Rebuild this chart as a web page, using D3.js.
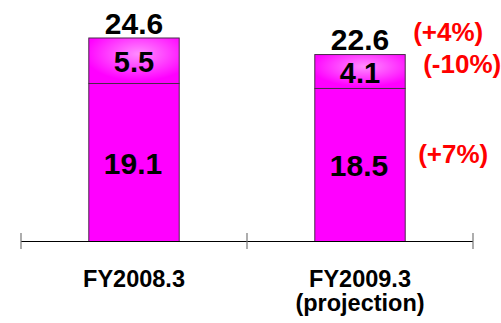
<!DOCTYPE html>
<html>
<head>
<meta charset="utf-8">
<script src="https://cdn.jsdelivr.net/npm/d3@7"></script>
<style>
  html, body { margin: 0; padding: 0; background: #fff; }
  svg { display: block; }
  svg text { font-family: "Liberation Sans", Arimo, Arial, Helvetica, sans-serif; font-weight: 700; }
</style>
</head>
<body>
<svg id="chart" width="501" height="323"></svg>
<script>
// Fiscal years and their stacked values
const categories = ["FY2008.3", "FY2009.3"];
const subLabels = ["", "(projection)"];
const baseValues = [19.1, 18.5];
const topValues = [5.5, 4.1];
const totals = [24.6, 22.6];
// Year-on-year change shown beside the projection bar
const changeTotal = "(+4%)";
const changeTop = "(-10%)";
const changeBase = "(+7%)";

const FONT = "'Liberation Sans', Arimo, Arial, sans-serif";
const svg = d3.select("#chart");
const axisY = 241.5;

const x = d3.scaleBand().domain(categories).range([21, 473]).paddingInner(0).paddingOuter(0);
const y = d3.scaleLinear().domain([0, 24.6]).range([axisY, 38]);
const barW = x.bandwidth() * 0.4;
const cx = c => x(c) + x.bandwidth() / 2;

const defs = svg.append("defs");
const grad = defs.append("radialGradient").attr("id", "glow")
  .attr("cx", "55%").attr("cy", "35%").attr("r", "60%");
grad.append("stop").attr("offset", "0%").attr("stop-color", "#ff8cff");
grad.append("stop").attr("offset", "100%").attr("stop-color", "#ff00ff");

const rows = categories.map((c, i) => ({
  c, base: baseValues[i], top: topValues[i], total: totals[i], sub: subLabels[i]
}));

// lower segment
svg.selectAll("rect.base").data(rows).join("rect").attr("class", "base")
  .attr("x", d => cx(d.c) - barW / 2).attr("width", barW)
  .attr("y", d => y(d.base)).attr("height", d => y(0) - y(d.base))
  .attr("fill", "#ff00ff").attr("stroke", "#4a2a4a").attr("stroke-width", 1);

// upper segment
svg.selectAll("rect.top").data(rows).join("rect").attr("class", "top")
  .attr("x", d => cx(d.c) - barW / 2).attr("width", barW)
  .attr("y", d => y(d.base + d.top)).attr("height", d => y(d.base) - y(d.base + d.top))
  .attr("fill", "url(#glow)").attr("stroke", "#4a2a4a").attr("stroke-width", 1);

// axis line with ticks at band edges
const axis = svg.append("g");
axis.append("line").attr("x1", 21).attr("x2", 473).attr("y1", axisY).attr("y2", axisY)
  .attr("stroke", "#000").attr("stroke-width", 1.2);
const edges = [x(categories[0]), x(categories[1]), x(categories[1]) + x.bandwidth()];
axis.selectAll("line.tick").data(edges).join("line").attr("class", "tick")
  .attr("x1", d => d).attr("x2", d => d).attr("y1", axisY - 8.5).attr("y2", axisY + 7.5)
  .attr("stroke", "#777").attr("stroke-width", 1.2);

const txt = sel => sel.attr("font-family", FONT).attr("font-weight", "bold").attr("text-anchor", "middle");

// value labels
svg.selectAll("text.total").data(rows).join("text").attr("class", "total").call(txt)
  .attr("x", d => cx(d.c)).attr("y", d => y(d.total) - 4.5)
  .attr("font-size", 30).attr("fill", "#000")
  .text(d => d.total.toFixed(1));

svg.selectAll("text.topv").data(rows).join("text").attr("class", "topv").call(txt)
  .attr("x", d => cx(d.c)).attr("y", d => (y(d.base) + y(d.base + d.top)) / 2 + 11.5)
  .attr("font-size", 29).attr("fill", "#000")
  .text(d => d.top.toFixed(1));

svg.selectAll("text.basev").data(rows).join("text").attr("class", "basev").call(txt)
  .attr("x", d => cx(d.c) - 1).attr("y", d => (y(0) + y(d.base)) / 2 + 11.5)
  .attr("font-size", 30).attr("fill", "#000")
  .text(d => d.base.toFixed(1));

// category labels
svg.selectAll("text.cat").data(rows).join("text").attr("class", "cat").call(txt)
  .attr("x", d => cx(d.c)).attr("y", 286.5)
  .attr("font-size", 23.5).attr("fill", "#000")
  .text(d => d.c);
svg.selectAll("text.sub").data(rows.filter(d => d.sub)).join("text").attr("class", "sub").call(txt)
  .attr("x", d => cx(d.c)).attr("y", 310.5)
  .attr("font-size", 23.5).attr("fill", "#000")
  .text(d => d.sub);

// change annotations beside the projection bar
const last = rows[rows.length - 1];
const right = cx(last.c) + barW / 2;
const notes = [
  { t: changeTotal, x: right + 43, y: y(last.total) - 14 },
  { t: changeTop, x: right + 57, y: (y(last.base) + y(last.total)) / 2 + 1 },
  { t: changeBase, x: right + 48, y: (y(0) + y(last.base)) / 2 - 2 }
];
svg.selectAll("text.note").data(notes).join("text").attr("class", "note").call(txt)
  .attr("x", d => d.x).attr("y", d => d.y)
  .attr("font-size", 26).attr("fill", "#ff0000")
  .text(d => d.t);
</script>
</body>
</html>
